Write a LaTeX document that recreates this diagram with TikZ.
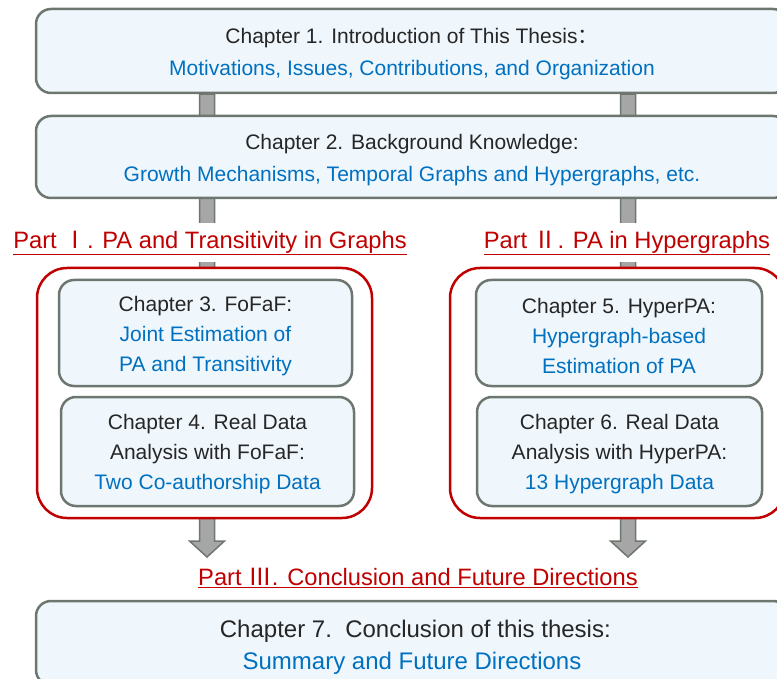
\documentclass[tikz,border=0pt]{standalone}
\usepackage{fontspec}
\setmainfont{Liberation Sans}
\newfontfamily\cjk{Noto Sans CJK SC}
\usepackage{xcolor}
\usetikzlibrary{calc,backgrounds}
\definecolor{boxgray}{HTML}{6D7770}
\definecolor{boxfill}{HTML}{EFF7FD}
\definecolor{txtdark}{HTML}{262626}
\definecolor{subblue}{HTML}{0070C0}
\definecolor{partred}{HTML}{C00000}
\definecolor{bargray}{HTML}{A6A6A6}
\newcommand{\sub}[1]{\textcolor{subblue}{#1}}
\newcommand{\topgap}[1][21pt]{\rule{0pt}{#1}}

\begin{document}
\begin{tikzpicture}[x=1pt, y=-1pt,
    chapbox/.style={draw=boxgray, fill=boxfill, line width=2.5pt,
          rounded corners=15pt, align=center, text=txtdark, inner sep=0pt,
          font=\fontsize{21}{32}\selectfont},
    smallbox/.style={chapbox, font=\fontsize{21}{30}\selectfont},
    partbox/.style={draw=partred, fill=white, line width=2.5pt,
          rounded corners=30pt, inner sep=0pt},
    partlabel/.style={fill=white, text=partred, inner sep=2pt,
          minimum height=39pt, font=\fontsize{23.7}{28}\selectfont},
    barrow/.style={draw=boxgray, fill=bargray, line width=1.5pt}]
    \useasboundingbox (0,0) rectangle (777,679);
    \clip (0,0) rectangle (777,679);

    % Intro and background
    \node[chapbox, minimum width=752pt, minimum height=84pt] (c1) at (412,51)
        {\topgap Chapter 1. Introduction of This Thesis{\cjk ：}\\
         \sub{Motivations, Issues, Contributions, and Organization}};
    \node[chapbox, minimum width=752pt, minimum height=82pt] (c2) at (412,157)
        {\topgap Chapter 2. Background Knowledge:\\
         \sub{Growth Mechanisms, Temporal Graphs and Hypergraphs, etc.}};

    % Part I
    \node[partlabel] (p1) at (210,243)
        {\underline{Part {\cjk Ⅰ}. PA and Transitivity in Graphs}};
    \node[partbox, minimum width=335pt, minimum height=250pt] (r1) at (204.5,393) {};
    \node[smallbox, minimum width=293pt, minimum height=106pt] (c3) at (205.5,333)
        {\topgap Chapter 3. FoFaF:\\ \sub{Joint Estimation of}\\ \sub{PA and Transitivity}};
    \node[smallbox, minimum width=293pt, minimum height=109pt] (c4) at (207.5,451.5)
        {\topgap Chapter 4. Real Data\\ Analysis with FoFaF:\\ \sub{Two Co-authorship Data}};

    % Part II
    \node[partlabel] (p2) at (627,243)
        {\underline{Part {\cjk Ⅱ}. PA in Hypergraphs}};
    \node[partbox, minimum width=335pt, minimum height=250pt] (r2) at (617.5,393) {};
    \node[smallbox, minimum width=286pt, minimum height=106pt] (c5) at (619,333)
        {\topgap Chapter 5. HyperPA:\\ \sub{Hypergraph-based}\\ \sub{Estimation of PA}};
    \node[smallbox, minimum width=285pt, minimum height=109pt] (c6) at (619.5,451.5)
        {\topgap Chapter 6. Real Data\\ Analysis with HyperPA:\\ \sub{13 Hypergraph Data}};

    % Part III
    \node[partlabel] (p3) at (418,578)
        {\underline{Part {\cjk Ⅲ}. Conclusion and Future Directions}};
    \node[chapbox, minimum width=752pt, minimum height=84pt,
          font=\fontsize{24}{32}\selectfont] (c7) at (412,643)
        {\topgap[25pt] Chapter 7.\ \ Conclusion of this thesis:\\
         \sub{Summary and Future Directions}};

    % gray bars behind
    \coordinate (ltip) at (207,557);
    \coordinate (rtip) at (628,557);
    \begin{pgfonlayer}{background}
    \foreach \t in {ltip, rtip} {
        \draw[barrow] ($(c1.south -| \t)+(-7.5,0)$) -- ($(\t)+(-7.5,-16)$)
            -- ($(\t)+(-17.5,-16)$) -- (\t) -- ($(\t)+(17.5,-16)$)
            -- ($(\t)+(7.5,-16)$) -- ($(c1.south -| \t)+(7.5,0)$) -- cycle;
    }
    \end{pgfonlayer}
\end{tikzpicture}
\end{document}
